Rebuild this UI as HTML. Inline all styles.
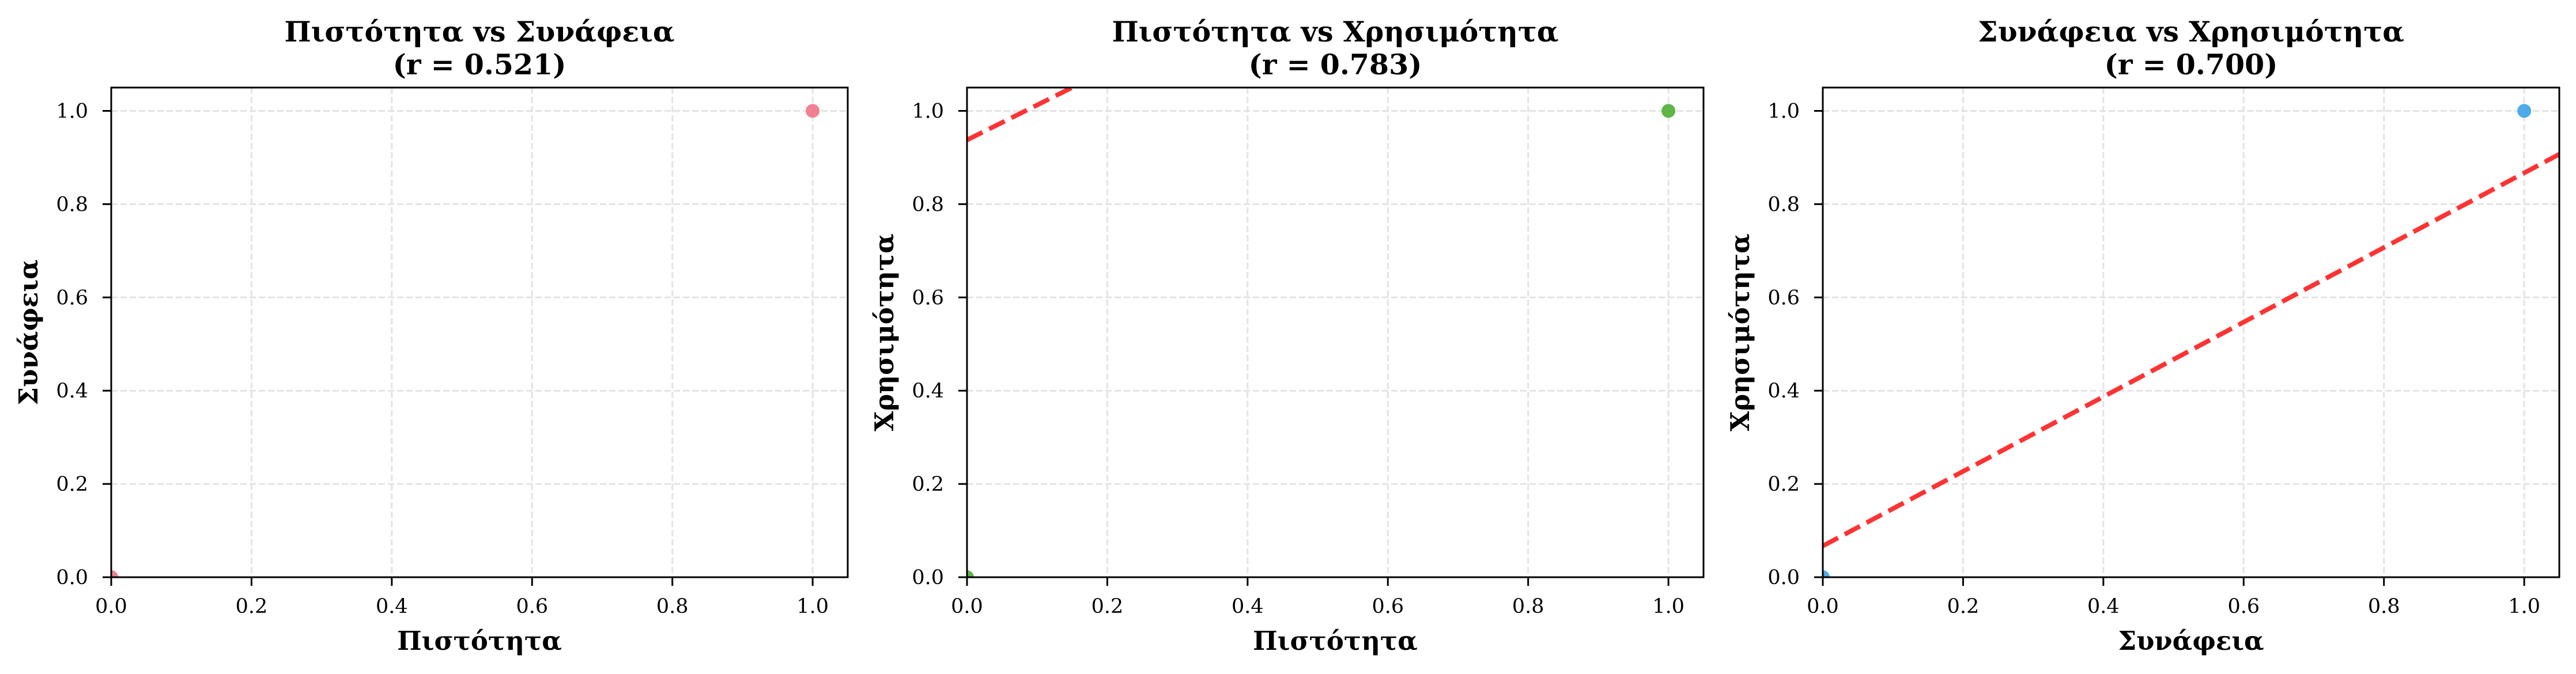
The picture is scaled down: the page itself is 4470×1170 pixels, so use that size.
<!DOCTYPE html>
<html><head><meta charset="utf-8">
<style>
html,body{margin:0;padding:0;background:#fff;}
svg{display:block;}
text{font-family:"DejaVu Serif","Liberation Serif",serif;fill:#000;}
.tick{font-size:35px;}
.lab{font-size:45px;font-weight:bold;}
.title{font-size:49px;font-weight:bold;}
</style></head>
<body>
<svg id="fig" width="4470" height="1170" viewBox="0 0 4470 1170" xmlns="http://www.w3.org/2000/svg"></svg>
<script>
const panelTitles = ["Πιστότητα vs Συνάφεια", "Πιστότητα vs Χρησιμότητα", "Συνάφεια vs Χρησιμότητα"];
const rValues = ["0.521", "0.783", "0.700"];
const xLabels = ["Πιστότητα", "Πιστότητα", "Συνάφεια"];
const yLabels = ["Συνάφεια", "Χρησιμότητα", "Χρησιμότητα"];
const pointsX = [[0, 1], [0, 1], [0, 1]];
const pointsY = [[0, 1], [0, 1], [0, 1]];
const fitIntercept = [null, 0.9376, 0.067];
const fitSlope = [null, 0.75, 0.80];
const pointColors = ["#f07384", "#4fae32", "#3ca2e8"];
const tickValues = [0, 0.2, 0.4, 0.6, 0.8, 1.0];
const tickLabels = ["0.0", "0.2", "0.4", "0.6", "0.8", "1.0"];

const NS = "http://www.w3.org/2000/svg";
const svg = document.getElementById("fig");
const W = 1278, H = 850, TOP = 152, LEFTS = [193, 1678, 3163];
const XMAX = 1.05, YMAX = 1.05;
function mk(tag, attrs, parent) {
  const e = document.createElementNS(NS, tag);
  for (const k in attrs) e.setAttribute(k, attrs[k]);
  (parent || svg).appendChild(e);
  return e;
}
for (let p = 0; p < 3; p++) {
  const L = LEFTS[p];
  const sx = v => L + v / XMAX * W;
  const sy = v => TOP + H - v / YMAX * H;
  const g = mk("g", {});
  
  
  const cid = "clip" + p;
  const cp = mk("clipPath", {id: cid}, g);
  mk("rect", {x: L, y: TOP, width: W, height: H}, cp);
  tickValues.forEach((v, i) => {
    const gx = mk("line", {x1: sx(v), x2: sx(v), y1: TOP, y2: TOP + H, stroke: "#e3e3e3", "stroke-width": 3, "stroke-dasharray": "11 5"}, g);
    
    
    const gy = mk("line", {x1: L, x2: L + W, y1: sy(v), y2: sy(v), stroke: "#e3e3e3", "stroke-width": 3, "stroke-dasharray": "11 5"}, g);
    
    
  });
  if (fitIntercept[p] !== null) {
    const a = fitIntercept[p], b = fitSlope[p];
    const fl = mk("line", {x1: sx(0), y1: sy(a), x2: sx(XMAX), y2: sy(a + b * XMAX), stroke: "#ff3333", "stroke-width": 8, "stroke-dasharray": "30 13", "clip-path": "url(#" + cid + ")"}, g);
    
    
  }
  pointsX[p].forEach((xv, i) => {
    const c = mk("circle", {cx: sx(xv), cy: sy(pointsY[p][i]), r: 12, fill: pointColors[p], "fill-opacity": 0.9, "clip-path": "url(#" + cid + ")"}, g);
    
    
  });
  const fr = mk("rect", {x: L, y: TOP, width: W, height: H, fill: "none", stroke: "#000", "stroke-width": 3}, g);
  
  
  tickValues.forEach((v, i) => {
    mk("line", {x1: sx(v), x2: sx(v), y1: TOP + H, y2: TOP + H + 15, stroke: "#000", "stroke-width": 3}, g);
    const tx = mk("text", {x: sx(v), y: TOP + H + 62, "text-anchor": "middle", class: "tick"}, g);
    tx.textContent = tickLabels[i];
    
    
    mk("line", {x1: L - 15, x2: L, y1: sy(v), y2: sy(v), stroke: "#000", "stroke-width": 3}, g);
    const ty = mk("text", {x: L - 40, y: sy(v) + 12, "text-anchor": "end", class: "tick"}, g);
    ty.textContent = tickLabels[i];
    
    
  });
  const xl = mk("text", {x: L + W / 2, y: 1128, "text-anchor": "middle", class: "lab"}, g);
  xl.textContent = xLabels[p];
  
  
  const yl = mk("text", {x: 0, y: 0, "text-anchor": "middle", class: "lab", transform: "translate(" + (L - 128) + "," + (TOP + H / 2) + ") rotate(-90)"}, g);
  yl.textContent = yLabels[p];
  
  
  const t1 = mk("text", {x: L + W / 2, y: 72, "text-anchor": "middle", class: "title"}, g);
  t1.textContent = panelTitles[p];
  
  
  const t2 = mk("text", {x: L + W / 2, y: 129, "text-anchor": "middle", class: "title"}, g);
  t2.textContent = "(r = " + rValues[p] + ")";
  
  
}
</script>
</body></html>
